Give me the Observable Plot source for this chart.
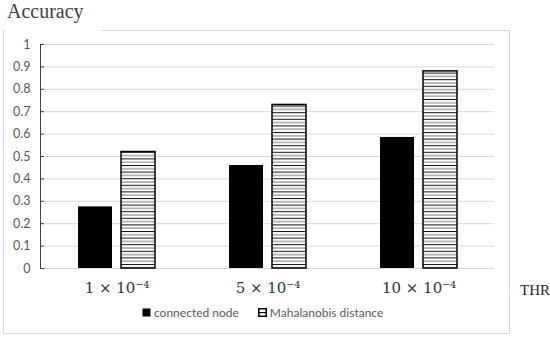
<!DOCTYPE html>
<html>
<head>
<meta charset="utf-8">
<script src="https://cdn.jsdelivr.net/npm/d3@7"></script>
<script src="https://cdn.jsdelivr.net/npm/@observablehq/plot@0.6"></script>
<style>
  html, body { margin: 0; padding: 0; background: #fff; }
  #wrap { position: relative; width: 550px; height: 338px; overflow: hidden; }
  .bl { position: absolute; background: #d9d9d9; }
  #title { position: absolute; left: 7px; top: 0px; font-family: "Liberation Serif", serif; font-size: 20px; color: #404040; }
  #thr { position: absolute; left: 520px; top: 282px; font-family: "Liberation Serif", serif; font-size: 15px; color: #262626; }
  #legend { position: absolute; left: 142px; top: 305px; font-family: Lato, sans-serif; font-size: 12px; color: #595959; display: flex; align-items: center; }
  #legend .item { display: flex; align-items: center; margin-right: 19px; }
  #legend svg { margin-right: 3px; }
  #chart { position: absolute; left: 0; top: 0; }
</style>
</head>
<body>
<div id="wrap">
  <div class="bl" style="left:3px; top:30px; width:1px; height:303px;"></div>
  <div class="bl" style="left:102px; top:30px; width:407px; height:1px;"></div>
  <div class="bl" style="left:509px; top:30px; width:1px; height:304px;"></div>
  <div class="bl" style="left:3px; top:333px; width:507px; height:1px;"></div>
  <div id="chart"></div>
  <div id="title">Accuracy</div>
  <div id="thr">THR</div>
  <div id="legend"></div>
</div>
<script>
const groups = ["1e-4", "5e-4", "10e-4"];
const groupLabels = ["1 × 10⁻⁴", "5 × 10⁻⁴", "10 × 10⁻⁴"];
const series = ["connected node", "Mahalanobis distance"];
const connectedNode = [0.275, 0.46, 0.585];
const mahalanobis = [0.52, 0.73, 0.88];
const yTicks = [0, 0.1, 0.2, 0.3, 0.4, 0.5, 0.6, 0.7, 0.8, 0.9, 1];
const yTickLabels = ["0", "0.1", "0.2", "0.3", "0.4", "0.5", "0.6", "0.7", "0.8", "0.9", "1"];

const data = groups.map((g, i) => ({group: g, connected: connectedNode[i], mahal: mahalanobis[i]}));

const svg = Plot.plot({
  width: 550,
  height: 338,
  marginLeft: 40,
  marginRight: 56,
  marginTop: 44,
  marginBottom: 70,
  style: {background: "transparent", overflow: "visible"},
  x: {domain: groups, padding: 0, label: null},
  y: {domain: [0, 1], label: null},
  marks: [
    Plot.gridY(yTicks, {stroke: "#d9d9d9", strokeOpacity: 1}),
    Plot.barY(data, {x: "group", y: "connected", fill: "black", insetLeft: 37, insetRight: 80}),
    Plot.barY(data, {x: "group", y: "mahal", fill: "url(#hlines)", stroke: "black", strokeWidth: 1.5, insetLeft: 80, insetRight: 37}),
    Plot.frame({anchor: "left", stroke: "#404040"}),
    Plot.axisY(yTicks, {tickSize: 0, tickPadding: 10, tickFormat: d => yTickLabels[yTicks.indexOf(d)], fontSize: 12.5, fontFamily: "Lato, sans-serif", fill: "#595959"}),
    Plot.axisY(yTicks, {tickSize: -4, text: null, stroke: "#404040", strokeOpacity: 1}),
    Plot.axisX(groups, {tickSize: 0, tickPadding: 14, tickFormat: d => groupLabels[groups.indexOf(d)], fontSize: 15, fontFamily: "DejaVu Serif, serif", fill: "#2b3448"})
  ]
});

d3.select(svg).insert("defs", ":first-child").html(`
  <pattern id="hlines" patternUnits="userSpaceOnUse" width="6" height="6.6">
    <rect width="6" height="6.6" fill="white"/>
    <rect y="0" width="6" height="1" fill="#111"/>
    <rect y="3.3" width="6" height="1" fill="#777"/>
  </pattern>`);

document.getElementById("chart").appendChild(svg);

// legend
const legend = d3.select("#legend");
series.forEach((s, i) => {
  const item = legend.append("div").attr("class", "item");
  const sw = item.append("svg").attr("width", 9).attr("height", 9);
  if (i === 0) {
    sw.append("rect").attr("width", 8).attr("height", 8).attr("x", 0.5).attr("y", 0.5).attr("fill", "black");
  } else {
    sw.append("rect").attr("x", 0.75).attr("y", 0.75).attr("width", 7.5).attr("height", 7.5).attr("fill", "white").attr("stroke", "black").attr("stroke-width", 1.5);
    sw.append("rect").attr("x", 1).attr("y", 4).attr("width", 7).attr("height", 1.2).attr("fill", "black");
  }
  item.append("span").text(s);
});
</script>
</body>
</html>
